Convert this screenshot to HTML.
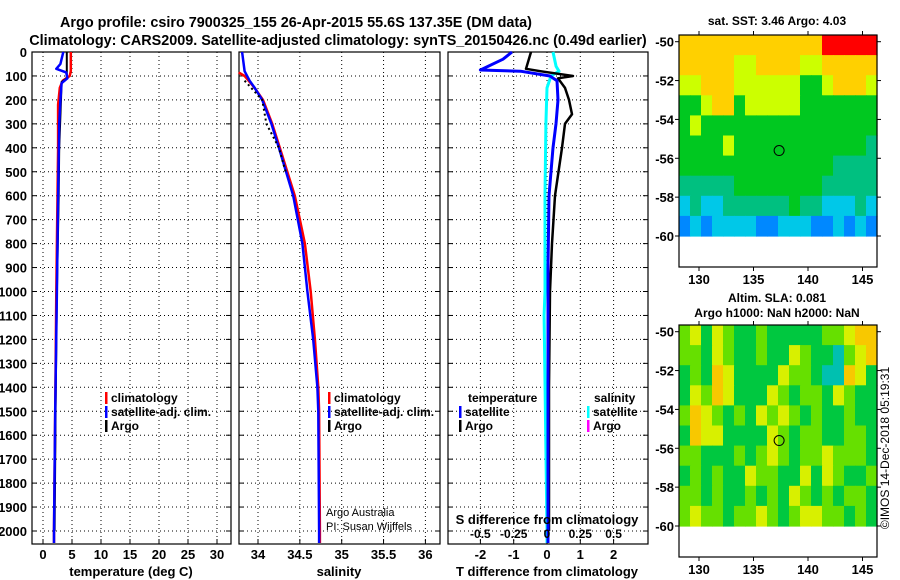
<!DOCTYPE html>
<html><head><meta charset="utf-8">
<style>
html,body{margin:0;padding:0;background:#fff;}
svg{display:block;font-family:"Liberation Sans",sans-serif;}
.b{font-weight:bold;}
</style></head>
<body>
<svg id="chart" width="900" height="580" viewBox="0 0 900 580" xmlns="http://www.w3.org/2000/svg">
<rect width="900" height="580" fill="#fff"/>
<text x="296" y="27" text-anchor="middle" class="b" font-size="14.4">Argo profile: csiro 7900325_155 26-Apr-2015 55.6S 137.35E (DM data)</text>
<text x="338" y="45" text-anchor="middle" class="b" font-size="14.4">Climatology: CARS2009. Satellite-adjusted climatology: synTS_20150426.nc (0.49d earlier)</text>
<g id="g"></g>
</svg>
<script>
// ---------- data ----------
const depthTicks = [0,100,200,300,400,500,600,700,800,900,1000,1100,1200,1300,1400,1500,1600,1700,1800,1900,2000];
const tempTicks = [0,5,10,15,20,25,30];
const salTicks = [34,34.5,35,35.5,36];
const tdiffTicks = [-2,-1,0,1,2];
const sdiffTicks = [-0.5,-0.25,0,0.25,0.5];
const sdiffLabels = ["-0.5","-0.25","0","0.25","0.5"];

const tClimDepth = [0,80,100,120,150,220,400,600,1000,1500,2000,2050];
const tClimVal   = [4.8,4.8,4.6,3.4,2.9,2.6,2.6,2.5,2.3,2.1,1.9,1.9];
const tSatDepth  = [0,50,70,85,110,130,200,300,600,1000,1500,2000,2050];
const tSatVal    = [3.5,3.0,2.3,4.0,4.2,3.2,3.0,2.8,2.6,2.4,2.1,1.9,1.9];
const tArgoDepth = [0,110,125,200,400,600,1000,1400,2000];
const tArgoVal   = [4.1,4.1,3.2,3.1,2.8,2.7,2.4,2.2,2.0];

const sClimDepth = [85,100,150,200,300,400,600,700,800,1000,1200,1400,1500,2000,2050];
const sClimVal   = [33.77,33.84,33.96,34.06,34.17,34.26,34.44,34.50,34.56,34.63,34.68,34.72,34.73,34.74,34.74];
const sSatDepth  = [0,80,120,150,200,300,400,600,800,1000,1200,1400,1500,2000,2050];
const sSatVal    = [33.81,33.84,33.9,33.96,34.05,34.16,34.25,34.42,34.53,34.59,34.66,34.71,34.72,34.73,34.73];
const sArgoDepth = [120,200,300,400,500];
const sArgoVal   = [33.84,34.05,34.1,34.25,34.33];

const dTSatDepth = [0,30,75,80,100,120,200,300,400,600,900,2000,2050];
const dTSatVal   = [-1.05,-1.32,-2.0,-0.8,0.09,0.3,0.33,0.27,0.18,0.06,0.03,0.03,0.03];
const dTArgoDepth= [0,70,80,100,110,150,200,260,300,400,600,800,1000,1400,2000];
const dTArgoVal  = [-0.48,-0.63,-0.2,0.78,0.33,0.54,0.66,0.75,0.54,0.45,0.24,0.15,0.09,0.06,0.06];
const dSSatDepth = [0,60,80,100,150,300,600,1000,1100,2000,2050];
const dSSatVal   = [0.045,0.068,0.09,0.03,0.0,-0.008,-0.015,-0.015,-0.022,0.0,0.0];

const lonTicks = [130,135,140,145];
const latTicks = [-50,-52,-54,-56,-58,-60];
const sstColors = ['#ff0000','#ffd000','#ccff00','#00c820','#00c080','#00c8e8','#0088ff'];
const sstGrid = [
"111111111111100000",
"111112211112211111",
"221112222223321112",
"332113222223333333",
"323333333333333333",
"333323333333333334",
"333333333333334444",
"444443333333344444",
"545544444434455545",
"656555566555665656"];
const slaColors = ['#00a888','#00c840','#66e000','#d8f000','#f8c800','#00c0b0'];
const slaGrid = [
"231321121111122344",
"221321121132115234",
"121431111322155431",
"132431113212213211",
"243212132321211211",
"143311113212211221",
"221112123212232221",
"121211322113132112",
"221211212132121221",
"232212232123322121"];
const argoLon = 137.35, argoLat = -55.6;

// ---------- drawing ----------
const NS="http://www.w3.org/2000/svg";
const G=document.getElementById('g');
function mk(tag,attrs,parent){const e=document.createElementNS(NS,tag);for(const k in attrs)e.setAttribute(k,attrs[k]);(parent||G).appendChild(e);return e;}
function txt(s,x,y,size,anchor,bold,parent){const t=mk('text',{x:x,y:y,'font-size':size,'text-anchor':anchor||'start'},parent);if(bold)t.setAttribute('font-weight','bold');t.textContent=s;return t;}

const yD = d => 52 + d*0.2395;
const PT=52, PB=544;
const panels=[
 {name:'temperature-panel',l:32,r:231,x:v=>43+v*5.8},
 {name:'salinity-panel',l:239,r:440,x:v=>258+(v-34)*83.7},
 {name:'difference-panel',l:448,r:648,x:v=>547+v*33.3}
];
panels.forEach((p,i)=>{
  const g=mk('g',{});
  
  
  depthTicks.forEach(d=>{
    const y=yD(d);
    if(d>0) mk('line',{x1:p.l,x2:p.r,y1:y,y2:y,stroke:'#000','stroke-dasharray':'1,3','stroke-width':1},g);
    mk('line',{x1:p.l,x2:p.l+5,y1:y,y2:y,stroke:'#000'},g);
    mk('line',{x1:p.r-5,x2:p.r,y1:y,y2:y,stroke:'#000'},g);
    if(i===0){const t=txt(String(d),27,y+5,13,'end',true,g);}
  });
  const ticks = i===0?tempTicks:(i===1?salTicks:tdiffTicks);
  ticks.forEach((v,k)=>{
    const x=p.x(v);
    mk('line',{x1:x,x2:x,y1:PT,y2:PB,stroke:'#000','stroke-dasharray':'1,3'},g);
    mk('line',{x1:x,x2:x,y1:PB-5,y2:PB,stroke:'#000'},g);
    const t=txt(String(v),x,559,13,'middle',true,g);
    
    
  });
  mk('rect',{x:p.l,y:PT,width:p.r-p.l,height:PB-PT,fill:'none',stroke:'#000','stroke-width':1.2},g);
});
txt('temperature (deg C)',131,576,13,'middle',true);
txt('salinity',339,576,13,'middle',true);
txt('T difference from climatology',547,576,13,'middle',true);

function series(depths,vals,xf,color,w,name,dash){
  const pts=depths.map((d,k)=>xf(vals[k]).toFixed(1)+','+yD(d).toFixed(1)).join(' ');
  const e=mk('polyline',{points:pts,fill:'none',stroke:color,'stroke-width':w,'stroke-linejoin':'round'});
  if(dash)e.setAttribute('stroke-dasharray',dash);
  
  
}
const px=panels.map(p=>p.x);
series(tClimDepth,tClimVal,px[0],'#ff0000',2.5,'temp-climatology-line');
series(tArgoDepth,tArgoVal,px[0],'#000',2,'temp-argo-line');
series(tSatDepth,tSatVal,px[0],'#0000ff',2.5,'temp-satellite-line');
series(sClimDepth,sClimVal,px[1],'#ff0000',2.5,'sal-climatology-line');
series(sSatDepth,sSatVal,px[1],'#0000ff',2.5,'sal-satellite-line');
series(sArgoDepth,sArgoVal,px[1],'#000',2,'sal-argo-line','2,3');
const sx = v=>547+v*133.2;
series(dSSatDepth,dSSatVal,sx,'#00ffff',3,'sdiff-satellite-line');
series(dTArgoDepth,dTArgoVal,px[2],'#000',2.5,'tdiff-argo-line');
series(dTSatDepth,dTSatVal,px[2],'#0000ff',3,'tdiff-satellite-line');

// S diff inner axis
txt('S difference from climatology',547,524,13,'middle',true);
sdiffTicks.forEach((v,k)=>{
  const t=txt(sdiffLabels[k],sx(v),538,12,'middle',true);
  
  
});

function legend(x,y,items){
  items.forEach((it,k)=>{
    const yy=y+k*14;
    const r=mk('rect',{x:x,y:yy-10,width:2.5,height:12,fill:it[1]});
    
    
    const t=txt(it[0],x+6,yy,12,'start',true);
    
    
  });
}
legend(105,402,[['climatology','#ff0000'],['satellite-adj. clim.','#0000ff'],['Argo','#000']]);
legend(328,402,[['climatology','#ff0000'],['satellite-adj. clim.','#0000ff'],['Argo','#000']]);
txt('temperature',468,402,12,'start',true);
legend(459,416,[['satellite','#0000ff'],['Argo','#000']]);
txt('salinity',594,402,12,'start',true);
legend(587,416,[['satellite','#00ffff'],['Argo','#ff00ff']]);
txt('Argo Australia',326,516,11,'start',false);
txt('PI: Susan Wijffels',326,530,11,'start',false);

// maps
function drawMap(name,top,bottom,lat50,lat60,grid,colors){
  const L=679,R=877;
  const lonX=lon=>699+(lon-130)*10.9;
  const latY=lat=>lat50+(-50-lat)*(lat60-lat50)/10;
  const g=mk('g',{});
  
  
  const lonMin=(L-699)/10.9+130, lonMax=(R-699)/10.9+130;
  const latMax=-50-(top-lat50)/((lat60-lat50)/10);
  const nr=grid.length,nc=grid[0].length;
  const dLon=(lonMax-lonMin)/nc, dLat=(latMax-(-60))/nr;
  for(let r=0;r<nr;r++)for(let c=0;c<nc;c++){
    const x0=lonX(lonMin+c*dLon),x1=lonX(lonMin+(c+1)*dLon);
    const y0=latY(latMax-r*dLat),y1=latY(latMax-(r+1)*dLat);
    const cell=mk('rect',{x:x0.toFixed(2),y:y0.toFixed(2),width:(x1-x0+0.6).toFixed(2),height:(y1-y0+0.6).toFixed(2),fill:colors[+grid[r][c]]},g);
    
    
  }
  mk('rect',{x:L,y:top,width:R-L,height:bottom-top,fill:'none',stroke:'#000','stroke-width':1.2},g);
  latTicks.forEach(v=>{
    const y=latY(v);
    mk('line',{x1:L-4,x2:L,y1:y,y2:y,stroke:'#000'},g);
    mk('line',{x1:R,x2:R+4,y1:y,y2:y,stroke:'#000'},g);
    const t=txt(String(v),L-5,y+5,13,'end',true,g);
    
    
  });
  lonTicks.forEach(v=>{
    const x=lonX(v);
    mk('line',{x1:x,x2:x,y1:bottom,y2:bottom+4,stroke:'#000'},g);
    mk('line',{x1:x,x2:x,y1:top-4,y2:top,stroke:'#000'},g);
    const t=txt(String(v),x,bottom+17,13,'middle',true,g);
    
    
  });
  const c=mk('circle',{cx:lonX(argoLon),cy:latY(argoLat),r:5,fill:'none',stroke:'#000','stroke-width':1},g);
  
  
}
drawMap('sst-map',35,267,41.7,236,sstGrid,sstColors);
drawMap('sla-map',325,557,331.7,526,slaGrid,slaColors);
txt('sat. SST: 3.46 Argo: 4.03',777,25,12,'middle',true);
txt('Altim. SLA: 0.081',777,302,12,'middle',true);
txt('Argo h1000: NaN h2000: NaN',777,317,12,'middle',true);
const im=txt('©IMOS 14-Dec-2018 05:19:31',0,0,12,'middle',false);
im.setAttribute('transform','translate(889,448) rotate(-90)');

</script>
</body></html>
